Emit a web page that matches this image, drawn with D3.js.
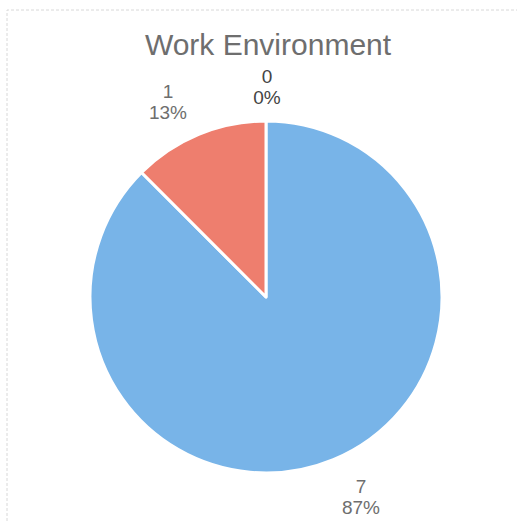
<!DOCTYPE html>
<html>
<head>
<meta charset="utf-8">
<script src="https://cdn.jsdelivr.net/npm/d3@7"></script>
<style>
html,body{margin:0;padding:0;background:#fff;}
svg{display:block;}
</style>
</head>
<body>
<svg id="chart" width="517" height="521"></svg>
<script>
const title = "Work Environment";
const categories = ["7", "1", "0"];
const values = [7, 1, 0];
const percents = ["87%", "13%", "0%"];
const colors = ["#78b4e8", "#ee7e6e", "#78b4e8"];

const W = 517, H = 521;
const cx = 266, cy = 297, R = 176;
const svg = d3.select("#chart");

// faint frame
svg.append("path")
  .attr("d", `M7,${H} L7,10 L${W},10`)
  .attr("fill", "none")
  .attr("stroke", "#d8d8d8")
  .attr("stroke-width", 1)
  .attr("stroke-dasharray", "3,2");

svg.append("text")
  .attr("x", 268).attr("y", 55)
  .attr("text-anchor", "middle")
  .attr("font-family", "Liberation Sans, Arial, sans-serif")
  .attr("font-size", 30)
  .attr("fill", "#6e6e6e")
  .text(title);

const data = categories.map((c, i) => ({cat: c, value: values[i], pct: percents[i], color: colors[i]}));

// Clockwise from 12 o'clock: 0 (empty), then 7, then 1
const order = [2, 0, 1];
const pie = d3.pie().value(d => d.value).sort((a, b) => order.indexOf(data.indexOf(a)) - order.indexOf(data.indexOf(b)));
const arcs = pie(data);
const arc = d3.arc().innerRadius(0).outerRadius(R);

const g = svg.append("g").attr("transform", `translate(${cx},${cy})`);
g.selectAll("path.slice")
  .data(arcs.filter(a => a.data.value > 0))
  .join("path")
  .attr("class", "slice")
  .attr("d", arc)
  .attr("fill", d => d.data.color)
  .attr("stroke", "#fff")
  .attr("stroke-width", 3)
  .attr("stroke-linejoin", "round");

// labels outside
const labelArc = d3.arc().innerRadius(R + 28).outerRadius(R + 28);
const labelPos = {
  "7": [95, 196],
  "1": [-98, -199],
  "0": [1, -214]
};
const lg = g.selectAll("g.lbl").data(arcs).join("g").attr("class", "lbl");
lg.each(function(d) {
  const p = labelPos[d.data.cat] || labelArc.centroid(d);
  const t = d3.select(this).append("text")
    .attr("text-anchor", "middle")
    .attr("font-family", "Liberation Sans, Arial, sans-serif")
    .attr("font-size", 19)
    .attr("fill", d.data.value === 0 ? "#444" : "#6e6e6e");
  t.append("tspan").attr("x", p[0]).attr("y", p[1]).text(d.data.cat);
  t.append("tspan").attr("x", p[0]).attr("y", p[1] + 21).text(d.data.pct);
});
</script>
</body>
</html>
